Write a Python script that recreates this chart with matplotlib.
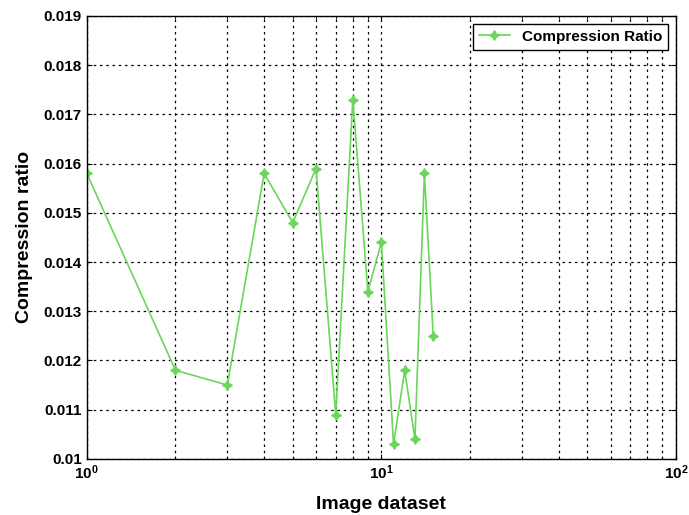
import numpy as np
import matplotlib.pyplot as plt

plt.rcParams['font.family'] = ['Liberation Sans', 'DejaVu Sans']

images = [1, 2, 3, 4, 5, 6, 7, 8, 9, 10, 11, 12, 13, 14, 15]
ratio = [0.0158, 0.0118, 0.0115, 0.0158, 0.0148, 0.0159, 0.0109, 0.0173,
         0.0134, 0.0144, 0.0103, 0.0118, 0.0104, 0.0158, 0.0125]
yticks = [0.01, 0.011, 0.012, 0.013, 0.014, 0.015, 0.016, 0.017, 0.018, 0.019]
ytick_labels = ['0.01', '0.011', '0.012', '0.013', '0.014', '0.015', '0.016',
                '0.017', '0.018', '0.019']

fig = plt.figure(figsize=(6.89, 5.15), dpi=100)
ax = fig.add_axes([0.126, 0.109, 0.855, 0.860])

ax.semilogx(images, ratio, color='#6ad65a', lw=1.2, marker=(4, 1, 0),
            markersize=7, label='Compression Ratio')

ax.set_xlim(1, 100)
ax.set_ylim(0.01, 0.019)
ax.set_yticks(yticks)
ax.set_yticklabels(ytick_labels)

ax.grid(True, which='both', axis='x', color='black', linestyle=(0, (2, 3)), lw=0.9)
ax.grid(True, which='major', axis='y', color='black', linestyle=(0, (2, 3)), lw=0.9)
ax.tick_params(which='both', direction='in', top=True, right=True)
ax.tick_params(labelsize=11)
for lbl in ax.get_xticklabels() + ax.get_yticklabels():
    lbl.set_fontweight('bold')
for s in ax.spines.values():
    s.set_linewidth(1.0)

ax.set_xlabel('Image dataset', fontsize=14, fontweight='bold', labelpad=10)
ax.set_ylabel('Compression ratio', fontsize=14, fontweight='bold', labelpad=8)

leg = ax.legend(loc='upper right', fancybox=False, edgecolor='black',
                framealpha=1, prop={'size': 11, 'weight': 'bold'})
leg.get_frame().set_linewidth(1.0)

fig.savefig('out.png', dpi=100)
